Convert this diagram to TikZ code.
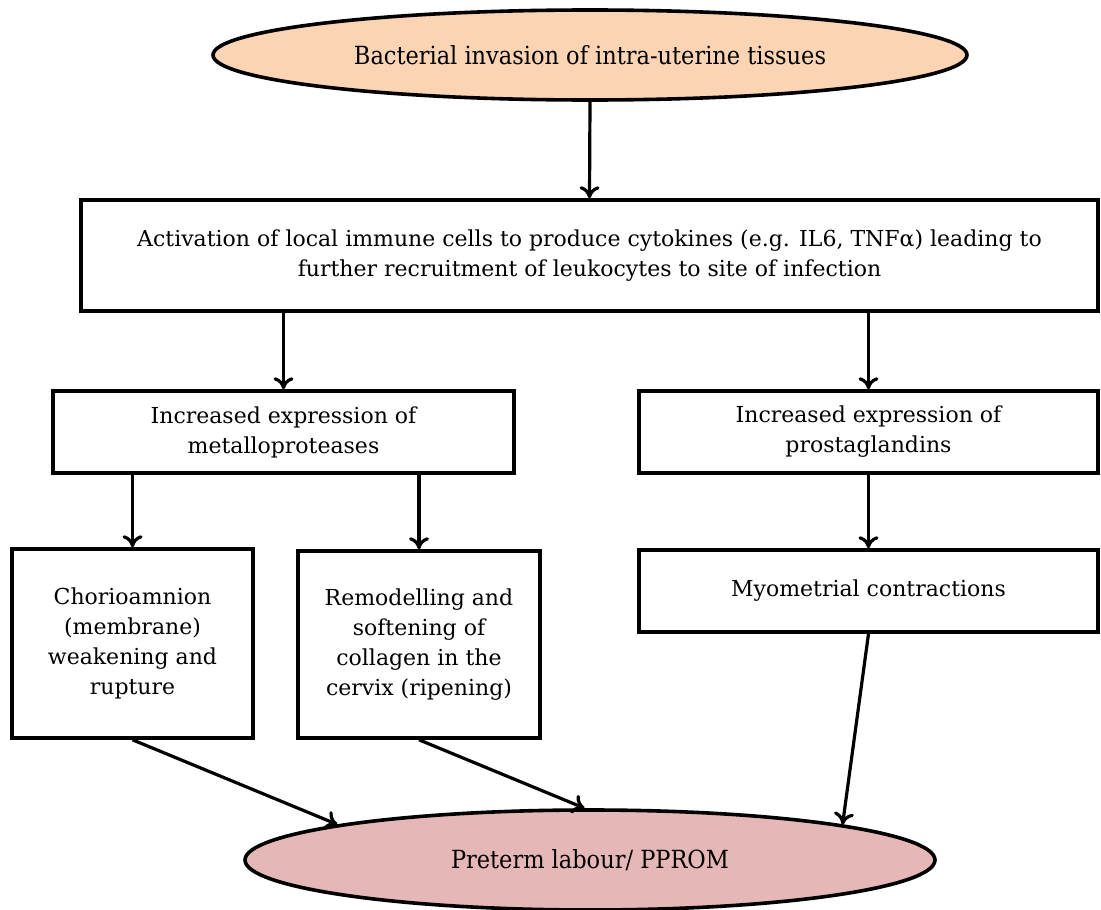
\documentclass[tikz,border=0pt]{standalone}
\usepackage{fontspec}
\setmainfont{DejaVu Serif}
\newfontfamily\condfont{DejaVu Serif Condensed}
\usetikzlibrary{arrows.meta,shapes.geometric}
\definecolor{peach}{HTML}{FBD4B4}
\definecolor{rose}{HTML}{E5B8B7}
\tikzset{
  stepbox/.style={draw=black, line width=3.6pt, fill=white, rectangle, inner sep=0pt, align=center, font=\fontsize{22}{30}\selectfont},
  oval/.style={draw=black, line width=3.6pt, ellipse, inner sep=0pt, align=center, font=\condfont\fontsize{25}{30}\selectfont},
  conn/.style={line width=3.2pt, -{To[length=12pt,width=20pt]}}
}
\begin{document}
\begin{tikzpicture}[x=1pt,y=-1pt]
\useasboundingbox (0,0) rectangle (1101,910);
\node[oval, fill=peach, minimum width=754pt, minimum height=90pt] (top) at (590,55) {Bacterial invasion of intra-uterine tissues};
\node[stepbox, minimum width=1017pt, minimum height=111pt] (act) at (589.5,255.5) {Activation of local immune cells to produce cytokines (e.g. IL6, TNFα) leading to\\further recruitment of leukocytes to site of infection};
\node[stepbox, minimum width=461pt, minimum height=82pt] (met) at (283.5,432) {Increased expression of\\metalloproteases};
\node[stepbox, minimum width=459pt, minimum height=82pt] (pro) at (868.5,432) {Increased expression of\\prostaglandins};
\node[stepbox, minimum width=241pt, minimum height=189pt] (cho) at (132.5,643.5) {Chorioamnion\\(membrane)\\weakening and\\rupture};
\node[stepbox, minimum width=242pt, minimum height=187pt] (rem) at (419,644.5) {Remodelling and\\softening of\\collagen in the\\cervix (ripening)};
\node[stepbox, minimum width=459pt, minimum height=82pt] (myo) at (868.5,591) {Myometrial contractions};
\node[oval, fill=rose, minimum width=690pt, minimum height=100pt] (bot) at (590,860) {Preterm labour/ PPROM};
\draw[conn] (top.south) -- (act.north);
\draw[conn] (act.south -| met.north) -- (met.north);
\draw[conn] (act.south -| pro.north) -- (pro.north);
\draw[conn] (met.south -| cho.north) -- (cho.north);
\draw[conn] (met.south -| rem.north) -- (rem.north);
\draw[conn] (pro.south) -- (myo.north);
\draw[conn] (cho.south) -- (bot.172.5);
\draw[conn] (rem.south) -- (bot.96);
\draw[conn] (myo.south) -- (bot.8.7);
\end{tikzpicture}
\end{document}
